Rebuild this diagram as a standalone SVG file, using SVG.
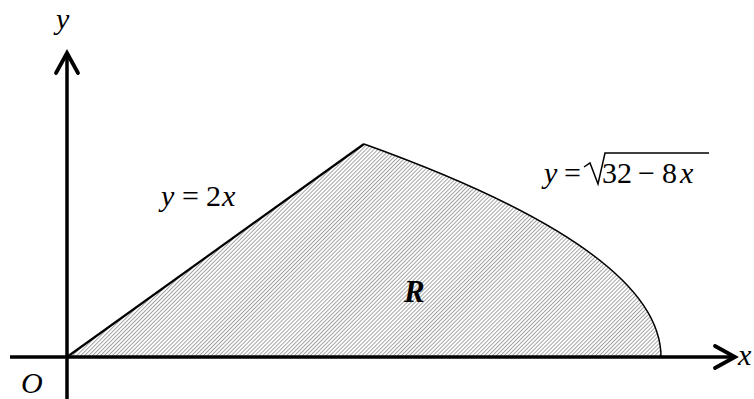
<svg xmlns="http://www.w3.org/2000/svg" width="754" height="399" viewBox="0 0 754 399">
<style>
.t{font-family:"Liberation Serif","Times New Roman",serif;font-style:italic;font-size:30px;fill:#000}
.n{font-family:"Liberation Serif","Times New Roman",serif;font-style:normal;font-size:30px;fill:#000}
.axis{stroke:#000;stroke-width:3.5;fill:none}
.head{stroke:#000;stroke-width:3.8;fill:none;stroke-linecap:round;stroke-linejoin:miter}
</style>
<defs>
<pattern id="hatch" patternUnits="userSpaceOnUse" width="2.8" height="10" patternTransform="rotate(45)">
<line x1="0.5" y1="0" x2="0.5" y2="10" stroke="#8a8a8a" stroke-width="0.8"/>
</pattern>
</defs>
<rect width="754" height="399" fill="#fff"/>
<g id="region">
<path d="M67,357 L364,144 Q661,250.5 661,357 Z" fill="url(#hatch)" stroke="none"/>
</g>
<g id="connectors">
<path id="line-y2x" d="M67,357 L364,144" stroke="#000" stroke-width="2.2" fill="none"/>
<path id="curve" d="M364,144 Q661,250.5 661,357" stroke="#000" stroke-width="1.5" fill="none"/>
</g>
<g id="axes">
<line class="axis" x1="67" y1="399" x2="67" y2="54"/>
<polyline class="head" points="56,73 67,53 78,73"/>
<line class="axis" x1="10" y1="357" x2="733" y2="357"/>
<polyline class="head" points="715,346 735,357 715,368"/>
</g>
<g id="labels">
<text class="t" x="56" y="29">y</text>
<text class="t" x="738" y="365">x</text>
<text class="t" x="21" y="393">O</text>
<text y="206"><tspan class="t" x="161">y</tspan><tspan class="n" x="182">=</tspan><tspan class="n" x="206">2</tspan><tspan class="t" x="222">x</tspan></text>
<text y="183"><tspan class="t" x="544">y</tspan><tspan class="n" x="564">=</tspan></text>
<path d="M584,167 L590,163 L598,184 L605,153 L709,153" stroke="#000" stroke-width="1.5" fill="none"/>
<text y="183"><tspan class="n" x="602">32</tspan><tspan class="n" x="638">−</tspan><tspan class="n" x="662">8</tspan><tspan class="t" x="680">x</tspan></text>
<text x="404" y="302" style="font-family:'Liberation Serif','Times New Roman',serif;font-style:italic;font-weight:bold;font-size:31px">R</text>
</g>
</svg>
